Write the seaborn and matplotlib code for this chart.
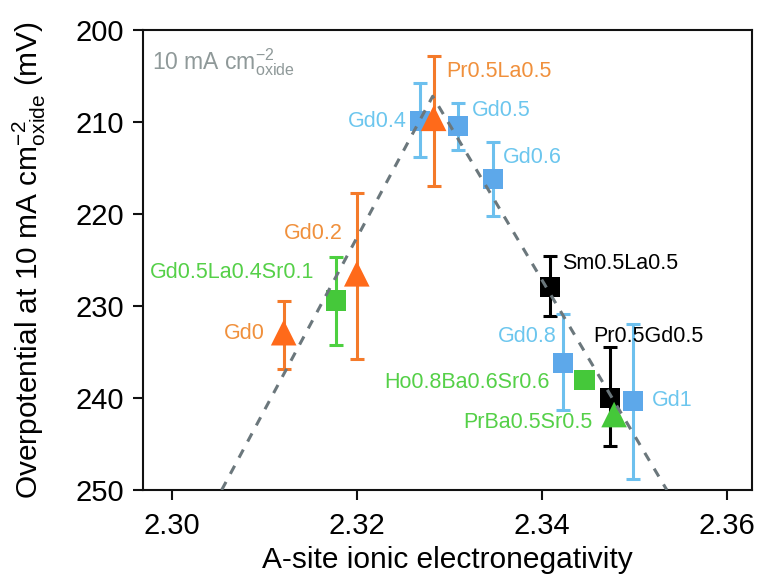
import numpy as np
import pandas as pd
import matplotlib
matplotlib.use("Agg")
import matplotlib.pyplot as plt
import seaborn as sns

# ---- data ----
names = ["Gd0", "Gd0.5La0.4Sr0.1", "Gd0.2", "Gd0.4", "Pr0.5La0.5", "Gd0.5",
         "Gd0.6", "Sm0.5La0.5", "Gd0.8", "Ho0.8Ba0.6Sr0.6", "Pr0.5Gd0.5",
         "PrBa0.5Sr0.5", "Gd1"]
electroneg = [2.3121, 2.3178, 2.3200, 2.3268, 2.3283, 2.3309,
              2.3347, 2.3409, 2.3423, 2.3446, 2.3474, 2.3478, 2.3498]
overpot = [232.9, 229.4, 226.5, 209.9, 209.6, 210.4,
           216.2, 227.9, 236.2, 238.0, 240.0, 241.8, 240.3]
err_top = [229.5, 224.7, 217.7, 205.8, 202.8, 207.9,
           212.2, 224.6, 230.9, np.nan, 234.5, np.nan, 232.0]
err_bottom = [236.9, 234.2, 235.8, 213.8, 217.0, 213.0,
              220.2, 231.1, 241.3, np.nan, 245.2, np.nan, 248.8]
family = ["orange", "green", "orange", "blue", "orange", "blue",
          "blue", "black", "blue", "green", "black", "green", "blue"]
shape = ["tri", "sq", "tri", "sq", "tri", "sq",
         "sq", "sq", "sq", "sq", "sq", "tri", "sq"]

trend_x = [2.3054, 2.3282, 2.3535]
trend_y = [250.0, 207.2, 250.0]

x_ticks = [2.30, 2.32, 2.34, 2.36]
y_ticks = [200, 210, 220, 230, 240, 250]

# label offsets in pixels (dx, dy up) and alignment
label_off = [(-19, -1), (-22, 28), (-14, 40), (-13, 0), (13, 47), (14, 15),
             (10, 22), (12, 23), (-7, 27), (-35, -3), (-17, 62), (-22, -8), (19, 0)]
label_ha = ["right", "right", "right", "right", "left", "left",
            "left", "left", "right", "right", "left", "right", "left"]

df = pd.DataFrame(dict(name=names, x=electroneg, y=overpot, top=err_top,
                       bottom=err_bottom, fam=family, shape=shape))

marker_col = {"orange": "#FF6A1A", "blue": "#5DA8EA", "green": "#45C83A", "black": "#000000"}
err_col = {"orange": "#F47A2A", "blue": "#6DC0EE", "green": "#4DD040", "black": "#000000"}
text_col = {"orange": "#F0903C", "blue": "#6CC6EE", "green": "#55D048", "black": "#000000"}

# ---- style ----
sns.set_theme(style="ticks")
plt.rcParams['font.family'] = ['Liberation Sans', 'DejaVu Sans']
plt.rcParams['mathtext.fontset'] = 'custom'
plt.rcParams['mathtext.rm'] = 'Liberation Sans'
plt.rcParams['mathtext.it'] = 'Liberation Sans:italic'
plt.rcParams['mathtext.bf'] = 'Liberation Sans:bold'

fig = plt.figure(figsize=(7.58, 5.83), dpi=100)
ax = fig.add_axes([143 / 758, 1 - 490 / 583, 609 / 758, 460 / 583])

# error bars
for _, r in df.dropna(subset=["top"]).iterrows():
    ax.errorbar([r.x], [r.y], yerr=[[r.y - r.top], [r.bottom - r.y]],
                fmt="none", ecolor=err_col[r.fam], elinewidth=2.2,
                capsize=5, capthick=2.2, zorder=2)

# markers
sq = df[df["shape"] == "sq"]
tri = df[df["shape"] == "tri"]
sns.scatterplot(data=sq, x="x", y="y", hue="fam", palette=marker_col,
                marker="s", s=210, linewidth=0, legend=False, ax=ax, zorder=3)
sns.scatterplot(data=tri, x="x", y="y", hue="fam", palette=marker_col,
                marker="^", s=340, linewidth=0, legend=False, ax=ax, zorder=3)

# volcano trend line
tdf = pd.DataFrame(dict(x=trend_x, y=trend_y))
sns.lineplot(data=tdf, x="x", y="y", color="#6B777C", linestyle=(0, (3, 3)),
             linewidth=2.2, sort=False, ax=ax, zorder=4)

# labels
for (i, r), off, ha in zip(df.iterrows(), label_off, label_ha):
    ax.annotate(r["name"], (r.x, r.y), xytext=(off[0] * 0.72, off[1] * 0.72),
                textcoords="offset points", ha=ha, va="center",
                fontsize=15.5, color=text_col[r.fam], zorder=5)

ax.text(0.015, 0.93, r"10 mA cm$^{-2}_{\mathrm{oxide}}$", transform=ax.transAxes,
        ha="left", va="center", fontsize=16.5, color="#8F9999")

ax.set_xlim(2.2969, 2.3627)
ax.set_ylim(250, 200)
ax.set_xticks(x_ticks)
ax.set_xticklabels([f"{v:.2f}" for v in x_ticks])
ax.set_yticks(y_ticks)
ax.set_xlabel("A-site ionic electronegativity", fontsize=21.5, labelpad=5, color="black")
ax.set_ylabel(r"Overpotential at 10 mA cm$^{-2}_{\mathrm{oxide}}$ (mV)", fontsize=21.5, color="black")
ax.yaxis.set_label_coords(-0.156, 0.5)
ax.tick_params(axis="both", labelsize=21, length=7.5, width=1.5, direction="out",
               color="#111111", labelcolor="black")
ax.tick_params(axis="x", pad=8)
ax.tick_params(axis="y", pad=6)
for sp in ax.spines.values():
    sp.set_visible(True)
    sp.set_linewidth(1.5)
    sp.set_color("#111111")

fig.savefig("out.png", dpi=100)
